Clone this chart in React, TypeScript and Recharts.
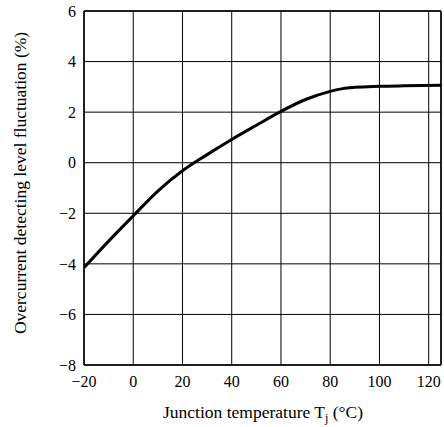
import { CartesianGrid, Line, LineChart, ReferenceLine, XAxis, YAxis } from "recharts"

const temps = [-20, -10, 0, 10, 20, 30, 40, 50, 60, 70, 80, 85, 90, 100, 110, 125]
const fluctuation = [-4.15, -3.1, -2.1, -1.12, -0.32, 0.32, 0.92, 1.48, 2.03, 2.5, 2.82, 2.93, 2.98, 3.02, 3.04, 3.06]

const xTicks = [-20, 0, 20, 40, 60, 80, 100, 120]
const yTicks = [-8, -6, -4, -2, 0, 2, 4, 6]

const data = temps.map((t, i) => ({ t, v: fluctuation[i] }))

const FONT = "Liberation Serif"
const tickStyle = { fontSize: 16, fill: "#000", style: { fontFamily: FONT } }

const minus = (v: number) => String(v).replace("-", "\u2212")

// title starts left-aligned; text-anchor middle drifted with the subscript tspans
function XTitle() {
  return (
    <text x={163} y={418} textAnchor="start" fontSize={17.5} style={{ fontFamily: FONT }} fill="#000">
      Junction temperature T
      <tspan fontSize={12} dy={4}>j</tspan>
      <tspan dy={-4}> (°C)</tspan>
    </text>
  )
}

function YTitle() {
  return (
    <text
      x={26}
      y={183}
      transform="rotate(-90 26 183)"
      textAnchor="middle"
      fontSize={17.5}
      style={{ fontFamily: FONT }}
      fill="#000"
    >
      Overcurrent detecting level fluctuation (%)
    </text>
  )
}

export default function App() {
  return (
    <div
      style={{
        position: "absolute",
        left: 0,
        top: 0,
        width: 444,
        height: 427,
        background: "#fff",
      }}
    >
      <LineChart width={444} height={427} data={data} margin={{ top: 11, right: 3, left: 0, bottom: 0 }}>
        <CartesianGrid stroke="#000" strokeWidth={1} />
        <XAxis
          type="number"
          dataKey="t"
          domain={[-20, 125]}
          ticks={xTicks}
          allowDataOverflow
          tickLine={false}
          tickMargin={5}
          tick={tickStyle}
          tickFormatter={minus}
          axisLine={{ stroke: "#000", strokeWidth: 1.5 }}
          height={62}
          label={<XTitle />}
        />
        <YAxis
          type="number"
          domain={[-8, 6]}
          ticks={yTicks}
          allowDataOverflow
          tickLine={false}
          tick={tickStyle}
          tickFormatter={minus}
          axisLine={{ stroke: "#000", strokeWidth: 1.5 }}
          width={84}
          label={<YTitle />}
        />
        <ReferenceLine x={125} stroke="#000" strokeWidth={1.5} />
        <ReferenceLine y={6} stroke="#000" strokeWidth={1.5} />
        <Line
          type="monotone"
          dataKey="v"
          stroke="#000"
          strokeWidth={3}
          dot={false}
          isAnimationActive={false}
        />
      </LineChart>
    </div>
  )
}
